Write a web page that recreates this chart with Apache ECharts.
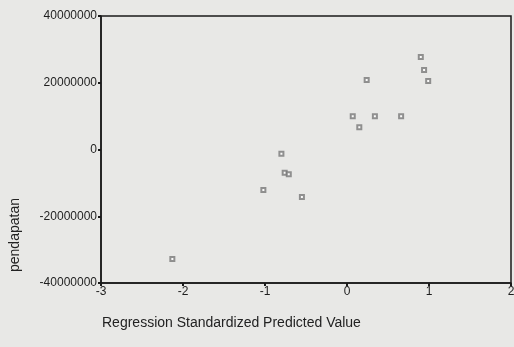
<!DOCTYPE html>
<html>
<head>
<meta charset="utf-8">
<script src="https://cdn.jsdelivr.net/npm/echarts@6/dist/echarts.min.js"></script>
<style>
  html, body { margin: 0; padding: 0; background: #e8e8e6; }
  #chart { width: 514px; height: 347px; }
</style>
</head>
<body>
<div id="chart"></div>
<script>
// standardized predicted value (x) vs pendapatan (y)
const predicted = [-2.13, -1.02, -0.80, -0.76, -0.71, -0.55, 0.07, 0.15, 0.24, 0.34, 0.66, 0.90, 0.94, 0.99];
const pendapatan = [-32800000, -12100000, -1300000, -7000000, -7400000, -14200000, 10000000, 6700000,
    20800000, 10000000, 10000000, 27700000, 23800000, 20500000];
const xTicks = [-3, -2, -1, 0, 1, 2];
const yTicks = [-40000000, -20000000, 0, 20000000, 40000000];

const font = 'Liberation Sans, Arial, sans-serif';
const points = predicted.map((v, i) => [v, pendapatan[i]]);

const chart = echarts.init(document.getElementById('chart'));
chart.setOption({
    backgroundColor: '#e8e8e6',
    animation: false,
    grid: {
        left: 101, right: 3, top: 16, bottom: 64,
        outerBoundsMode: 'none',
        containLabel: false,
        show: true, borderColor: '#1a1a1a', borderWidth: 1.5,
        backgroundColor: 'transparent'
    },
    xAxis: {
        type: 'value',
        min: xTicks[0], max: xTicks[xTicks.length - 1], interval: 1,
        splitLine: { show: false },
        axisLine: { onZero: false, lineStyle: { color: '#1a1a1a', width: 1.5 } },
        axisTick: { length: 3, lineStyle: { color: '#1a1a1a', width: 2 } },
        axisLabel: { color: '#1e1e1e', fontFamily: font, fontSize: 12, margin: 3 }
    },
    yAxis: {
        type: 'value',
        min: yTicks[0], max: yTicks[yTicks.length - 1], interval: 20000000,
        splitLine: { show: false },
        axisLine: { onZero: false, lineStyle: { color: '#1a1a1a', width: 1.5 } },
        axisTick: { length: 3, lineStyle: { color: '#1a1a1a', width: 2 } },
        axisLabel: {
            color: '#1e1e1e', fontFamily: font, fontSize: 12, margin: 4,
            formatter: v => String(v)
        }
    },
    graphic: [
        {
            type: 'text', left: 102, top: 316,
            style: { text: 'Regression Standardized Predicted Value', fill: '#222', font: '14px ' + font }
        },
        {
            type: 'text', x: 8, y: 272, rotation: Math.PI / 2,
            style: { text: 'pendapatan', fill: '#222', font: '14px ' + font }
        }
    ],
    series: [{
        type: 'scatter',
        data: points,
        symbol: 'emptyRect',
        symbolSize: 4,
        itemStyle: { color: '#777', borderColor: '#777', borderWidth: 1 }
    }]
});
</script>
</body>
</html>
